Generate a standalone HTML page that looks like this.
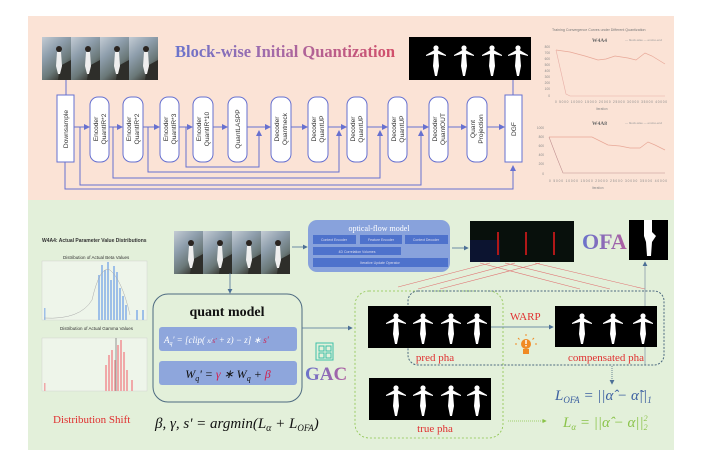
<!DOCTYPE html>
<html><head><meta charset="utf-8"><style>
html,body{margin:0;padding:0;background:#fff;}
svg{display:block;font-family:"Liberation Serif",serif;}
</style></head><body>
<svg width="716" height="457" viewBox="0 0 716 457" xmlns="http://www.w3.org/2000/svg">
<defs>
<marker id="ab" markerWidth="6" markerHeight="6" refX="5" refY="3" orient="auto"><path d="M0,0 L6,3 L0,6 z" fill="#6670d0"/></marker>
<marker id="ag" markerWidth="6" markerHeight="6" refX="5" refY="3" orient="auto"><path d="M0,0 L6,3 L0,6 z" fill="#4d7096"/></marker>
<marker id="agr" markerWidth="6" markerHeight="6" refX="5" refY="3" orient="auto"><path d="M0,0 L6,3 L0,6 z" fill="#8bc34a"/></marker>
<linearGradient id="tg" x1="0" x2="1"><stop offset="0" stop-color="#6a74cc"/><stop offset="0.45" stop-color="#a46aa8"/><stop offset="1" stop-color="#d24f6a"/></linearGradient>
<linearGradient id="og" x1="0" x2="1"><stop offset="0" stop-color="#6a74cc"/><stop offset="1" stop-color="#b060a0"/></linearGradient>
<linearGradient id="ph" x1="0" y1="0" x2="0.6" y2="1"><stop offset="0" stop-color="#c4ccd4"/><stop offset="0.4" stop-color="#8e9eac"/><stop offset="0.75" stop-color="#6a7878"/><stop offset="1" stop-color="#3a3a34"/></linearGradient>
<g id="girl"><circle cx="0" cy="-12" r="2.6" fill="#fff"/><path d="M-1.5,-10 L-10,-5 L-10,-4 L-2,-6 L-3,6 L-1,16 L1,16 L3,6 L2,-6 L10,-4 L10,-5 L1.5,-10 Z" fill="#fff"/></g>
<g id="pg"><rect x="-14" y="-21" width="29" height="43" fill="url(#ph)"/><path d="M4,8 L15,2 L15,22 L2,22 Z" fill="#2e2e2a"/><circle cx="3" cy="-9" r="3" fill="#2a2420"/><path d="M1,-6 L0,8 L2,16 L4,16 L6,8 L5,-6 Z" fill="#eeeeee"/></g>
</defs>

<rect x="28" y="16" width="646" height="184" fill="#fbe3d6"/>
<rect x="28" y="200" width="646" height="250" fill="#e3f0da"/>

<use href="#pg" x="56" y="58"/><use href="#pg" x="85" y="58"/><use href="#pg" x="114" y="58"/><use href="#pg" x="143" y="58"/>

<text x="175" y="57" font-size="16.5" font-weight="bold" fill="url(#tg)">Block-wise Initial Quantization</text>

<rect x="409" y="37" width="122" height="43" fill="#000"/>
<use href="#girl" x="436" y="60"/><use href="#girl" x="464" y="60"/><use href="#girl" x="492" y="60"/><use href="#girl" x="518" y="60"/>

<text x="552" y="31" font-size="3.6" font-family="Liberation Sans,sans-serif" fill="#777">Training Convergence Curves under Different Quantization</text>
<text x="592" y="42" font-size="5.5" font-weight="bold" fill="#666">W4A4</text>
<text x="625" y="41" font-size="3" fill="#999" font-family="Liberation Sans,sans-serif">— block-wise   — end-to-end</text>
<g font-size="3.2" fill="#888" font-family="Liberation Sans,sans-serif" text-anchor="end">
<text x="550" y="48">800</text><text x="550" y="54">700</text><text x="550" y="60">600</text><text x="550" y="66">500</text><text x="550" y="72">400</text><text x="550" y="78">300</text><text x="550" y="84">200</text><text x="550" y="90">100</text><text x="550" y="97">0</text>
</g>
<text x="555" y="103" font-size="3.2" fill="#888" font-family="Liberation Sans,sans-serif" textLength="112">0  5000  10000  15000  20000  25000  30000  35000  40000</text>
<text x="596" y="110" font-size="3.2" fill="#888" font-family="Liberation Sans,sans-serif">Iteration</text>
<path d="M556,50 L570,52 L585,56 L598,60 L606,59 L615,56 L628,58 L636,60 L645,53 L652,56 L665,64" fill="none" stroke="#e8a898" stroke-width="0.7"/>
<path d="M556,50 L561,72 L566,94 L570,96 L665,96" fill="none" stroke="#e8b0a8" stroke-width="0.6"/>
<text x="592" y="125" font-size="5.5" font-weight="bold" fill="#666">W4A8</text>
<text x="625" y="124" font-size="3" fill="#999" font-family="Liberation Sans,sans-serif">— block-wise   — end-to-end</text>
<g font-size="3.2" fill="#888" font-family="Liberation Sans,sans-serif" text-anchor="end">
<text x="544" y="129">1000</text><text x="544" y="138">800</text><text x="544" y="147">600</text><text x="544" y="156">400</text><text x="544" y="165">200</text><text x="544" y="175">0</text>
</g>
<text x="549" y="182" font-size="3.2" fill="#888" font-family="Liberation Sans,sans-serif" textLength="118">0   5000  10000  15000  20000  25000  30000  35000  40000</text>
<text x="592" y="189" font-size="3.2" fill="#888" font-family="Liberation Sans,sans-serif">Iteration</text>
<path d="M549,137 L570,137 L592,137 L600,141 L608,145 L620,146 L630,148 L640,148 L648,142 L655,145 L665,150" fill="none" stroke="#e8a898" stroke-width="0.7"/>
<path d="M549,137 L557,158 L563,173 L665,173" fill="none" stroke="#c09090" stroke-width="0.6"/>

<g stroke="#6670d0" stroke-width="1" fill="none">
<line x1="66" y1="80" x2="66" y2="95"/>
<line x1="513" y1="95" x2="513" y2="80"/>
<line x1="74" y1="127" x2="89" y2="127" marker-end="url(#ab)"/>
<line x1="109" y1="127" x2="122" y2="127" marker-end="url(#ab)"/>
<line x1="143" y1="127" x2="159" y2="127" marker-end="url(#ab)"/>
<line x1="179" y1="127" x2="192" y2="127" marker-end="url(#ab)"/>
<line x1="213" y1="127" x2="227" y2="127" marker-end="url(#ab)"/>
<line x1="247" y1="127" x2="270" y2="127" marker-end="url(#ab)"/>
<line x1="291" y1="127" x2="307" y2="127" marker-end="url(#ab)"/>
<line x1="328" y1="127" x2="346" y2="127" marker-end="url(#ab)"/>
<line x1="367" y1="127" x2="387" y2="127" marker-end="url(#ab)"/>
<line x1="407" y1="127" x2="428" y2="127" marker-end="url(#ab)"/>
<line x1="448" y1="127" x2="466" y2="127" marker-end="url(#ab)"/>
<line x1="487" y1="127" x2="504" y2="127" marker-end="url(#ab)"/>
<polyline points="186,127 186,167 259,167 259,131" marker-end="url(#ab)"/>
<polyline points="148,127 148,172 339,172 339,131" marker-end="url(#ab)"/>
<polyline points="113,127 113,178 380,178 380,131" marker-end="url(#ab)"/>
<polyline points="80,127 80,185 421,185 421,131" marker-end="url(#ab)"/>
<polyline points="65,162 65,189 513,189 513,166" marker-end="url(#ab)"/>
</g>
<g fill="#fff" stroke="#6670d0" stroke-width="1">
<rect x="57" y="95" width="17" height="67"/>
<rect x="505" y="95" width="17" height="67"/>
<rect x="90" y="97" width="19" height="65" rx="8"/>
<rect x="123" y="97" width="20" height="65" rx="8"/>
<rect x="160" y="97" width="19" height="65" rx="8"/>
<rect x="193" y="97" width="20" height="65" rx="8"/>
<rect x="228" y="97" width="19" height="65" rx="8"/>
<rect x="271" y="97" width="20" height="65" rx="8"/>
<rect x="308" y="97" width="20" height="65" rx="8"/>
<rect x="347" y="97" width="20" height="65" rx="8"/>
<rect x="388" y="97" width="19" height="65" rx="8"/>
<rect x="429" y="97" width="19" height="65" rx="8"/>
<rect x="467" y="97" width="20" height="65" rx="8"/>
</g>
<g font-family="Liberation Sans,sans-serif" font-size="6.6" fill="#333" text-anchor="middle">
<text transform="translate(68,129) rotate(-90)">Downsample</text>
<text transform="translate(98,129) rotate(-90)">Encoder</text><text transform="translate(106,129) rotate(-90)">QuantIR*2</text>
<text transform="translate(131,129) rotate(-90)">Encoder</text><text transform="translate(139,129) rotate(-90)">QuantIR*2</text>
<text transform="translate(168,129) rotate(-90)">Encoder</text><text transform="translate(176,129) rotate(-90)">QuantIR*3</text>
<text transform="translate(201,129) rotate(-90)">Encoder</text><text transform="translate(209,129) rotate(-90)">QuantIR*10</text>
<text transform="translate(240,129) rotate(-90)">QuantLASPP</text>
<text transform="translate(279,129) rotate(-90)">Decoder</text><text transform="translate(287,129) rotate(-90)">Quantneck</text>
<text transform="translate(316,129) rotate(-90)">Decoder</text><text transform="translate(324,129) rotate(-90)">QuantUP</text>
<text transform="translate(355,129) rotate(-90)">Decoder</text><text transform="translate(363,129) rotate(-90)">QuantUP</text>
<text transform="translate(396,129) rotate(-90)">Decoder</text><text transform="translate(404,129) rotate(-90)">QuantUP</text>
<text transform="translate(437,129) rotate(-90)">Decoder</text><text transform="translate(445,129) rotate(-90)">QuantOUT</text>
<text transform="translate(475,129) rotate(-90)">Quant</text><text transform="translate(483,129) rotate(-90)">Projection</text>
<text transform="translate(516,129) rotate(-90)">DGF</text>
</g>

<text x="42" y="242" font-size="5" font-family="Liberation Sans,sans-serif" font-weight="bold" fill="#333">W4A4: Actual Parameter Value Distributions</text>
<text x="63" y="259" font-size="4.5" font-family="Liberation Sans,sans-serif" fill="#333">Distribution of Actual Beta Values</text>
<rect x="42" y="261" width="105" height="59" fill="#eef5ea" stroke="#ccc" stroke-width="0.4"/>
<g fill="#9dbfe8">
<rect x="44" y="308" width="1.5" height="12"/><rect x="98" y="275" width="2" height="45"/><rect x="101" y="265" width="2" height="55"/><rect x="104" y="270" width="2" height="50"/><rect x="107" y="262" width="2" height="58"/><rect x="110" y="280" width="2" height="40"/><rect x="113" y="266" width="2" height="54"/><rect x="116" y="272" width="2" height="48"/><rect x="119" y="288" width="2" height="32"/><rect x="122" y="296" width="2" height="24"/><rect x="125" y="305" width="2" height="15"/><rect x="136" y="310" width="2" height="10"/><rect x="142" y="310" width="2" height="10"/>
</g>
<path d="M44,318 Q80,320 92,300 Q100,265 110,270 Q122,280 130,315" fill="none" stroke="#aaa" stroke-width="0.5"/>
<text x="60" y="330" font-size="4.5" font-family="Liberation Sans,sans-serif" fill="#333">Distribution of Actual Gamma Values</text>
<rect x="42" y="338" width="105" height="53" fill="#eef5ea" stroke="#ccc" stroke-width="0.4"/>
<g fill="#f0a8a8">
<rect x="44" y="383" width="1.5" height="8"/><rect x="105" y="365" width="2" height="26"/><rect x="108" y="355" width="2" height="36"/><rect x="111" y="350" width="2" height="41"/><rect x="114" y="360" width="2" height="31"/><rect x="117" y="345" width="2" height="46"/><rect x="120" y="340" width="2" height="51"/><rect x="123" y="352" width="2" height="39"/><rect x="126" y="370" width="2" height="21"/><rect x="131" y="380" width="2" height="11"/>
</g>
<line x1="116" y1="338" x2="116" y2="391" stroke="#555" stroke-width="0.6"/>
<text x="53" y="423" font-size="11" fill="#e03030">Distribution Shift</text>

<use href="#pg" x="188" y="252"/><use href="#pg" x="217" y="252"/><use href="#pg" x="246" y="252"/><use href="#pg" x="275" y="252"/>
<line x1="292" y1="247" x2="307" y2="247" stroke="#4d7096" stroke-width="0.8" marker-end="url(#ag)"/>
<line x1="230" y1="273" x2="230" y2="293" stroke="#4d7096" stroke-width="0.8" marker-end="url(#ag)"/>

<rect x="308" y="220" width="142" height="52" rx="9" fill="#88a2dc"/>
<text x="379" y="231" font-size="8" fill="#fff" text-anchor="middle">optical-flow model</text>
<g fill="#4e72cc"><rect x="313" y="235" width="43" height="9"/><rect x="360" y="235" width="42" height="9"/><rect x="405" y="235" width="43" height="9"/><rect x="313" y="247" width="88" height="8"/><rect x="313" y="258" width="135" height="9"/></g>
<g font-size="3.5" fill="#dde" text-anchor="middle" font-family="Liberation Sans,sans-serif">
<text x="334" y="241">Context Encoder</text><text x="381" y="241">Feature Encoder</text><text x="426" y="241">Context     Decoder</text>
<text x="357" y="253">4D Correlation Volumes</text><text x="380" y="264">Iterative Update Operator</text></g>
<line x1="452" y1="248" x2="468" y2="248" stroke="#4d7096" stroke-width="0.8" marker-end="url(#ag)"/>

<rect x="470" y="221" width="104" height="41" fill="#08100c"/>
<rect x="470" y="240" width="30" height="22" fill="#0c1430"/>
<g stroke="#b01818" stroke-width="2"><line x1="498" y1="232" x2="498" y2="255"/><line x1="526" y1="232" x2="526" y2="255"/><line x1="554" y1="232" x2="554" y2="255"/></g>
<text x="582" y="249" font-size="22" font-weight="bold" fill="url(#og)">OFA</text>
<rect x="629" y="220" width="39" height="40" fill="#000"/>
<path d="M644,220 L652,220 L652,232 L656,236 L652,242 L651,256 L647,256 L646,242 L644,236 Z" fill="#fff"/>

<g stroke="#e07070" stroke-width="0.6">
<line x1="490" y1="263" x2="398" y2="287"/><line x1="515" y1="263" x2="418" y2="289"/><line x1="540" y1="263" x2="440" y2="289"/>
<line x1="480" y1="263" x2="580" y2="289"/><line x1="505" y1="263" x2="610" y2="289"/><line x1="535" y1="263" x2="645" y2="289"/>
</g>
<line x1="645" y1="365" x2="645" y2="262" stroke="#8a9aaa" stroke-width="0.8" marker-end="url(#ag)"/>

<rect x="153" y="294" width="149" height="108" rx="15" fill="none" stroke="#4d6a80" stroke-width="1"/>
<text x="227" y="316" font-size="14" font-weight="bold" fill="#111" text-anchor="middle">quant model</text>
<rect x="159" y="327" width="138" height="24" rx="3" fill="#8ea6dc"/>
<text x="164" y="343" font-size="9" font-style="italic" fill="#fff">A<tspan font-size="6" dy="2">q</tspan><tspan dy="-2">' = [clip( </tspan><tspan font-size="7">x/</tspan><tspan fill="#d02050" font-size="7">s'</tspan> + z) − z] ∗ <tspan fill="#d02050">s'</tspan></text>
<rect x="159" y="361" width="138" height="24" rx="3" fill="#8ea6dc"/>
<text x="228" y="378" font-size="12" font-style="italic" fill="#111" text-anchor="middle">W<tspan font-size="8" dy="3">q</tspan><tspan dy="-3">' = </tspan><tspan fill="#d02050">γ</tspan> ∗ W<tspan font-size="8" dy="3">q</tspan><tspan dy="-3"> + </tspan><tspan fill="#d02050">β</tspan></text>
<line x1="302" y1="328" x2="352" y2="328" stroke="#4d7096" stroke-width="0.8" marker-end="url(#ag)"/>
<g stroke="#3cc0a8" stroke-width="1" fill="none"><rect x="316" y="343" width="17" height="17"/><rect x="319" y="346" width="5" height="5"/><rect x="326" y="346" width="5" height="5"/><rect x="319" y="353" width="5" height="5"/><rect x="326" y="353" width="5" height="5"/></g>
<text x="305" y="380" font-size="19" font-weight="bold" fill="url(#og)">GAC</text>
<text x="155" y="428" font-size="15" font-style="italic" fill="#111">β, γ, s' = argmin(L<tspan font-size="10" dy="3">α</tspan><tspan dy="-3"> + L</tspan><tspan font-size="9" dy="3">OFA</tspan><tspan dy="-3">)</tspan></text>

<rect x="355" y="291" width="148" height="147" rx="14" fill="none" stroke="#8bc34a" stroke-width="0.8" stroke-dasharray="2,2"/>
<rect x="408" y="291" width="256" height="74" rx="10" fill="none" stroke="#4d6a80" stroke-width="1" stroke-dasharray="2,1.5"/>

<rect x="368" y="306" width="123" height="42" fill="#000"/>
<use href="#girl" x="396" y="328"/><use href="#girl" x="423" y="328"/><use href="#girl" x="451" y="328"/><use href="#girl" x="477" y="328"/>
<text x="435" y="361" font-size="11" fill="#e03030" text-anchor="middle">pred pha</text>
<text x="510" y="320" font-size="11" fill="#e03030">WARP</text>
<line x1="491" y1="327" x2="553" y2="327" stroke="#4d7096" stroke-width="0.8" marker-end="url(#ag)"/>
<g fill="#f08a24"><circle cx="526" cy="344" r="5"/><rect x="523" y="349" width="6" height="5"/><g stroke="#f08a24" stroke-width="1"><line x1="526" y1="334" x2="526" y2="336"/><line x1="518" y1="338" x2="519.5" y2="339.5"/><line x1="534" y1="338" x2="532.5" y2="339.5"/><line x1="515" y1="344" x2="517" y2="344"/><line x1="535" y1="344" x2="537" y2="344"/></g></g>
<rect x="525.3" y="340" width="1.4" height="4" fill="#fff"/><rect x="525.3" y="345" width="1.4" height="1.4" fill="#fff"/>

<rect x="555" y="306" width="102" height="41" fill="#000"/>
<use href="#girl" x="582" y="328"/><use href="#girl" x="613" y="328"/><use href="#girl" x="643" y="328"/>
<text x="606" y="361" font-size="11" fill="#e03030" text-anchor="middle">compensated pha</text>
<line x1="612" y1="366" x2="612" y2="384" stroke="#4d6a80" stroke-width="0.8" stroke-dasharray="1,1" marker-end="url(#ag)"/>

<rect x="369" y="378" width="122" height="42" fill="#000"/>
<use href="#girl" x="396" y="400"/><use href="#girl" x="423" y="400"/><use href="#girl" x="451" y="400"/><use href="#girl" x="477" y="400"/>
<text x="435" y="432" font-size="11" fill="#e03030" text-anchor="middle">true pha</text>

<text x="555" y="400" font-size="15" font-style="italic" fill="#3b5fa0">L<tspan font-size="9" dy="3">OFA</tspan><tspan dy="-3"> = ||α̂ − α̃||</tspan><tspan font-size="9" dy="3">1</tspan></text>
<line x1="508" y1="421" x2="546" y2="421" stroke="#8bc34a" stroke-width="0.7" stroke-dasharray="1,1" marker-end="url(#agr)"/>
<text x="563" y="427" font-size="15" font-style="italic" fill="#8bc34a">L<tspan font-size="9" dy="3">α</tspan><tspan dy="-3"> = ||α̂ − α||</tspan><tspan font-size="8" dy="-6">2</tspan><tspan font-size="8" dx="-4" dy="9">2</tspan></text>
</svg>
</body></html>
